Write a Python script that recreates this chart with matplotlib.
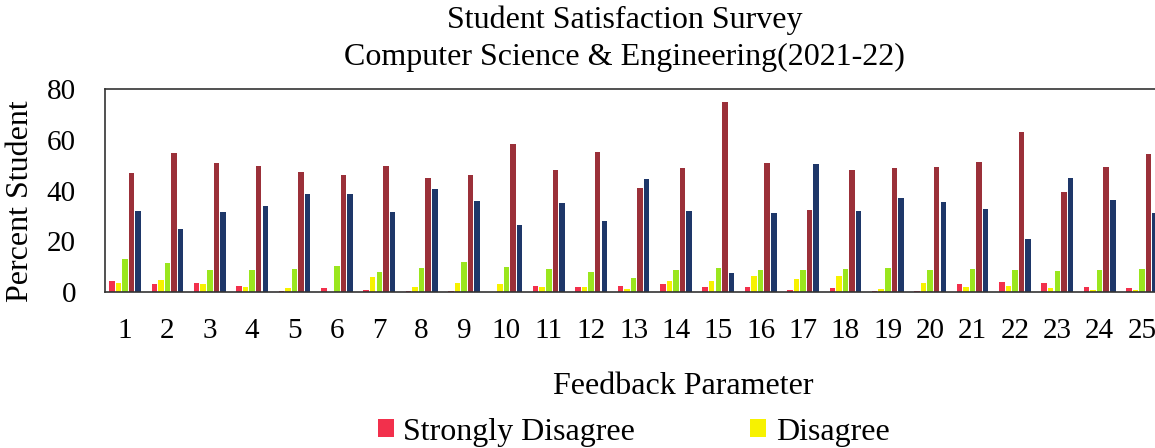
import numpy as np
import matplotlib
matplotlib.use("Agg")
import matplotlib.pyplot as plt

# === Survey values (percent of students) ===
params = [str(i) for i in range(1, 26)]
strongly_disagree = [4.3, 3.3, 3.7, 2.4, 0.5, 1.7, 0.9, 0.5, 0.3, 0.0, 2.4, 2.2, 2.5,
                     3.2, 2.0, 2.0, 1.0, 1.6, 0.3, 0.3, 3.3, 3.8, 3.5, 2.0, 1.8]
disagree = [3.5, 4.9, 3.3, 2.1, 1.5, 0.0, 5.9, 2.2, 3.7, 3.1, 2.0, 2.2, 1.4,
            4.5, 4.2, 6.2, 5.0, 6.3, 1.2, 3.5, 2.2, 2.4, 1.6, 0.9, 0.9]
neutral = [13.1, 11.6, 8.8, 8.8, 9.2, 10.1, 8.1, 9.4, 11.8, 9.8, 9.2, 8.1, 5.5,
           8.8, 9.6, 8.8, 8.6, 9.2, 9.6, 8.7, 9.0, 8.8, 8.4, 8.8, 9.2]
agree = [46.9, 54.7, 51.0, 49.9, 47.4, 46.2, 49.7, 45.0, 46.3, 58.4, 48.3, 55.1, 41.0,
         49.0, 75.0, 50.7, 32.4, 48.0, 48.9, 49.5, 51.2, 63.0, 39.6, 49.2, 54.3]
strongly_agree = [31.8, 24.7, 31.5, 34.0, 38.7, 38.6, 31.5, 40.5, 35.8, 26.5, 35.3, 28.2, 44.6,
                  32.0, 7.5, 31.2, 50.3, 32.0, 36.9, 35.5, 32.7, 20.9, 45.1, 36.3, 31.3]

series = [
    ("Strongly Disagree", strongly_disagree, "#f2304c"),
    ("Disagree", disagree, "#f7f200"),
    ("Neutral", neutral, "#9ae61e"),
    ("Agree", agree, "#9b3039"),
    ("Strongly Agree", strongly_agree, "#1e3769"),
]

plt.rcParams['font.family'] = ['Liberation Serif', 'DejaVu Serif']

fig = plt.figure(figsize=(11.55, 4.48), dpi=100)
ax = fig.add_axes([0.091, 0.348, 0.915, 0.453])

x = np.arange(1, len(params) + 1)
step = 0.155
width = 0.13
bars = []
for i, (name, vals, col) in enumerate(series):
    bars.append(ax.bar(x + (i - 2) * step, vals, width=width, color=col, label=name))

ax.set_xlim(0.53, 25.47)
ax.set_ylim(0, 80)
ax.set_yticks([0, 20, 40, 60, 80])
ax.set_xticks(x)
ax.set_xticklabels(params)
ax.tick_params(axis='both', length=0, labelsize=21)
ax.tick_params(axis='x', pad=19)
ax.tick_params(axis='y', pad=21)
for sp in ax.spines.values():
    sp.set_linewidth(1.2)
    sp.set_color("#333333")

ax.set_ylabel("Percent Student", fontsize=23)
ax.yaxis.set_label_coords(-0.066, 0.45)
ax.set_xlabel("Feedback Parameter", fontsize=23)
ax.xaxis.set_label_coords(0.547, -0.395)
fig.text(0.541, 0.955, "Student Satisfaction Survey", ha='center', va='center', fontsize=23)
fig.text(0.541, 0.872, "Computer Science & Engineering(2021-22)", ha='center', va='center', fontsize=23)

# only the first legend row shows in the scan
fig.legend(handles=bars[:2], loc='center left', bbox_to_anchor=(0.327, 1.0 - 432 / 448),
           ncol=2, frameon=False, fontsize=23, handlelength=0.5, handleheight=0.5,
           handletextpad=0.3, columnspacing=3.6, borderaxespad=0, borderpad=0)

fig.savefig("out.png", dpi=100)
